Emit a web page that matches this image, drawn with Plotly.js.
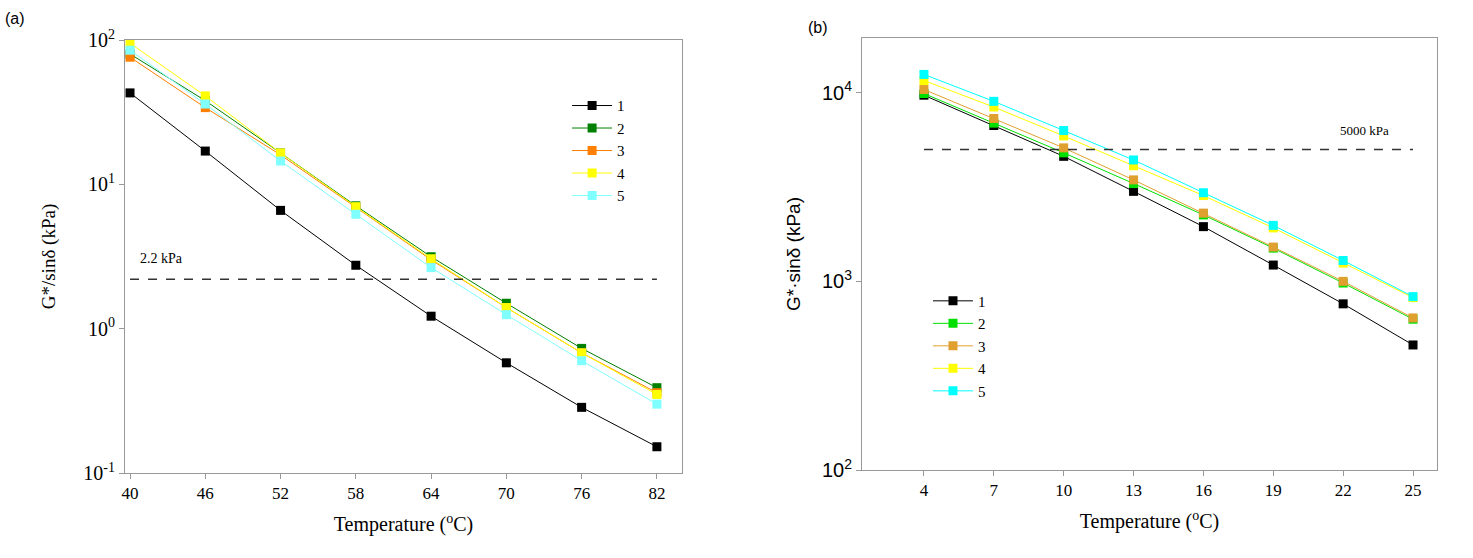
<!DOCTYPE html>
<html><head><meta charset="utf-8">
<script src="https://cdn.plot.ly/plotly-3.0.1.min.js"></script>
<style>body{margin:0;background:#fff}#chart{width:1473px;height:558px}</style>
</head><body><div id="chart"></div>
<script>
const tempA = [40, 46, 52, 58, 64, 70, 76, 82];
const tempB = [4, 7, 10, 13, 16, 19, 22, 25];
const seriesNames = ["1", "2", "3", "4", "5"];
const highA = [
    [43, 17, 6.6, 2.75, 1.22, 0.58, 0.285, 0.152],
    [80, 38, 16.5, 7.1, 3.15, 1.5, 0.73, 0.39],
    [76, 34, 16, 6.9, 3.0, 1.4, 0.68, 0.36],
    [95, 41, 16.5, 7.0, 3.05, 1.4, 0.68, 0.35],
    [85, 36, 14.5, 6.2, 2.65, 1.25, 0.6, 0.3]
];
const lowB = [
    [9700, 6700, 4600, 3000, 1950, 1220, 760, 460],
    [9900, 6900, 4800, 3300, 2250, 1500, 980, 630],
    [10400, 7300, 5100, 3450, 2300, 1520, 1000, 640],
    [11600, 8400, 5900, 4100, 2850, 1920, 1250, 820],
    [12500, 9000, 6300, 4400, 2950, 1980, 1290, 830]
];
const limitA = 2.2;
const limitB = 5000;
const colorsA = ["#000000", "#008000", "#ff8000", "#ffff00", "#80ffff"];
const colorsB = ["#000000", "#00e000", "#e0a030", "#ffff00", "#00ffff"];

const serif = "Liberation Serif";
let data = [];
highA.forEach((ys, i) => {
    data.push({x: tempA, y: ys, name: seriesNames[i], type: "scatter", mode: "lines+markers",
        line: {color: colorsA[i], width: 1}, marker: {symbol: "square", size: 9, color: colorsA[i]},
        xaxis: "x", yaxis: "y", legend: "legend"});
});
lowB.forEach((ys, i) => {
    data.push({x: tempB, y: ys, name: seriesNames[i], type: "scatter", mode: "lines+markers",
        line: {color: colorsB[i], width: 1}, marker: {symbol: "square", size: 9, color: colorsB[i]},
        xaxis: "x2", yaxis: "y2", legend: "legend2"});
});
data.push({x: [tempA[0], tempA[tempA.length - 1]], y: [limitA, limitA], mode: "lines", showlegend: false,
    line: {color: "#333", width: 1.3, dash: "dash"}, xaxis: "x", yaxis: "y", hoverinfo: "skip"});
data.push({x: [tempB[0], tempB[tempB.length - 1]], y: [limitB, limitB], mode: "lines", showlegend: false,
    line: {color: "#333", width: 1.3, dash: "dash"}, xaxis: "x2", yaxis: "y2", hoverinfo: "skip"});

const axisBase = {showline: true, mirror: true, linecolor: "#999", linewidth: 1, ticks: "outside",
    ticklen: 5, tickcolor: "#999", showgrid: false, zeroline: false};
const legBase = {font: {family: serif, size: 15, color: "#000"}, bgcolor: "rgba(0,0,0,0)",
    tracegroupgap: 0, itemwidth: 40};

const layout = {
    width: 1473, height: 558, showlegend: true,
    paper_bgcolor: "#fff", plot_bgcolor: "#fff",
    margin: {l: 0, r: 0, t: 0, b: 0},
    xaxis: Object.assign({}, axisBase, {domain: [125 / 1473, 682 / 1473], range: [39.6, 84],
        tickvals: tempA, tickfont: {family: serif, size: 17, color: "#000"},
        title: {text: "Temperature (<sup>o</sup>C)", font: {family: serif, size: 20, color: "#000"}, standoff: 14},
        anchor: "y"}),
    yaxis: Object.assign({}, axisBase, {type: "log", domain: [1 - 473 / 558, 1 - 40 / 558], range: [-1, 2],
        tickvals: [0.1, 1, 10, 100], ticktext: ["10<sup>-1</sup>", "10<sup>0</sup>", "10<sup>1</sup>", "10<sup>2</sup>"],
        tickfont: {family: serif, size: 20, color: "#000"},
        title: {text: "G*/sinδ (kPa)", font: {family: serif, size: 19, color: "#000"}, standoff: 22},
        anchor: "x"}),
    xaxis2: Object.assign({}, axisBase, {domain: [862 / 1473, 1437 / 1473], range: [1.34, 26.03],
        tickvals: tempB, tickfont: {family: serif, size: 17, color: "#000"},
        title: {text: "Temperature (<sup>o</sup>C)", font: {family: serif, size: 20, color: "#000"}, standoff: 14},
        anchor: "y2"}),
    yaxis2: Object.assign({}, axisBase, {type: "log", domain: [1 - 470 / 558, 1 - 38 / 558], range: [2, 4.29],
        tickvals: [100, 1000, 10000], ticktext: ["10<sup>2</sup>", "10<sup>3</sup>", "10<sup>4</sup>"],
        tickfont: {family: "Liberation Sans", size: 20, color: "#000"},
        title: {text: "G*·sinδ (kPa)", font: {family: "Liberation Sans", size: 19, color: "#000"}, standoff: 16},
        anchor: "x2"}),
    legend: Object.assign({}, legBase, {x: 0.385, y: 0.84, xanchor: "left", yanchor: "top"}),
    legend2: Object.assign({}, legBase, {x: 0.63, y: 0.49, xanchor: "left", yanchor: "top"}),
    annotations: [
        {text: "(a)", xref: "paper", yref: "paper", x: 0.002, y: 0.985, showarrow: false, xanchor: "left",
            font: {family: "Liberation Sans", size: 16, color: "#000"}},
        {text: "(b)", xref: "paper", yref: "paper", x: 0.547, y: 0.97, showarrow: false, xanchor: "left",
            font: {family: "Liberation Sans", size: 16, color: "#000"}},
        {text: "2.2 kPa", xref: "x", yref: "y", x: 40.6, y: Math.log10(limitA) + 0.08, showarrow: false,
            xanchor: "left", yanchor: "bottom", font: {family: serif, size: 14, color: "#000"}},
        {text: "5000 kPa", xref: "x2", yref: "y2", x: 21.8, y: Math.log10(limitB) + 0.05, showarrow: false,
            xanchor: "left", yanchor: "bottom", font: {family: serif, size: 13, color: "#000"}}
    ]
};

Plotly.newPlot("chart", data, layout, {staticPlot: true});
</script>
</body></html>
